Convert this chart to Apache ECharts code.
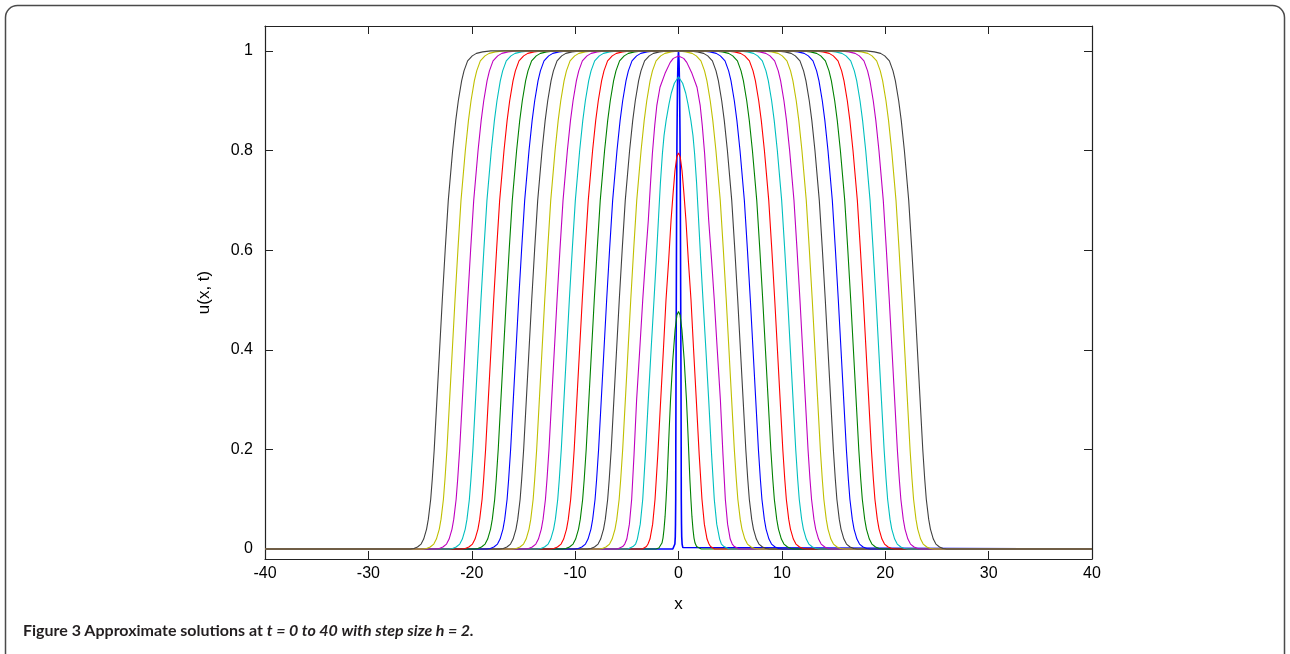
<!DOCTYPE html>
<html>
<head>
<meta charset="utf-8">
<script src="https://cdn.jsdelivr.net/npm/echarts@6/dist/echarts.min.js"></script>
<style>
html,body{margin:0;padding:0;background:#fff;}
#chart{width:1290px;height:654px;}
</style>
</head>
<body>
<div id="chart"></div>
<script>
// ---- data ----
const xTickValues = [-40, -30, -20, -10, 0, 10, 20, 30, 40];
const yTickValues = [0, 0.2, 0.4, 0.6, 0.8, 1];
const times = [0, 2, 4, 6, 8, 10, 12, 14, 16, 18, 20, 22, 24, 26, 28, 30, 32, 34, 36, 38, 40];

// right-half profiles [x, u] of the early curves (symmetric about x = 0)
const profileT0 = [[0, 1], [0.05, 0.98], [0.1, 0.93], [0.15, 0.82], [0.18, 0.7], [0.21, 0.52], [0.24, 0.35], [0.26, 0.2], [0.27, 0.1], [0.29, 0.05], [0.31, 0.025], [0.35, 0.01], [0.42, 0.003], [0.55, 0]];
const profileT2 = [[0, 0.477], [0.15, 0.47], [0.33, 0.44], [0.55, 0.38], [0.77, 0.3], [0.9, 0.24], [1.0, 0.19], [1.1, 0.14], [1.2, 0.1], [1.3, 0.065], [1.4, 0.04], [1.5, 0.022], [1.6, 0.012], [1.75, 0.005], [1.9, 0.002], [2.2, 0]];
const profileT4 = [[0, 0.795], [0.17, 0.787], [0.34, 0.76], [0.52, 0.715], [0.72, 0.66], [0.95, 0.58], [1.21, 0.5], [1.46, 0.4], [1.72, 0.3], [2.0, 0.19], [2.27, 0.1], [2.5, 0.05], [2.76, 0.02], [2.95, 0.01], [3.1, 0.005], [3.5, 0]];
const profileT6 = [[0, 0.948], [0.4, 0.935], [0.7, 0.915], [0.92, 0.893], [1.2, 0.86], [1.4, 0.83], [1.56, 0.793], [1.75, 0.735], [1.92, 0.67], [2.15, 0.58], [2.37, 0.5], [2.65, 0.4], [2.92, 0.3], [3.2, 0.19], [3.46, 0.1], [3.7, 0.05], [3.98, 0.02], [4.15, 0.01], [4.4, 0.005], [4.9, 0]];
const profileT8 = [[0, 0.99], [0.5, 0.985], [0.8, 0.977], [1.3, 0.955], [1.79, 0.927], [2.1, 0.89], [2.3, 0.85], [2.53, 0.793], [2.72, 0.73], [2.92, 0.66], [3.2, 0.58], [3.46, 0.5], [3.75, 0.4], [4.05, 0.3], [4.3, 0.19], [4.53, 0.1], [4.75, 0.05], [5.0, 0.02], [5.2, 0.01], [5.4, 0.005], [5.9, 0]];

// half-height positions |x| of the travelling fronts for t = 10 ... 40
const frontHalfPos = [4.62, 5.73, 6.95, 8.15, 9.31, 10.56, 11.75, 12.94, 14.20, 15.46, 16.66, 17.88, 19.11, 20.39, 21.62, 22.85];
// front shape: level u and its distance from the half-height point
const frontLevels = [1, 0.998, 0.995, 0.99, 0.98, 0.96, 0.94, 0.9, 0.86, 0.8, 0.7, 0.6, 0.5, 0.4, 0.3, 0.2, 0.14, 0.1, 0.06, 0.04, 0.02, 0.01, 0.004, 0.001, 0];
const frontOffsets = [-4.7, -3.9, -3.3, -2.9, -2.45, -2.1, -1.87, -1.55, -1.3, -1.0, -0.58, -0.28, 0, 0.26, 0.52, 0.78, 0.97, 1.12, 1.35, 1.52, 1.8, 2.05, 2.4, 2.75, 3.1];

// MATLAB default colour order
const lineColors = ['#0000ff', '#008000', '#ff0000', '#00bfbf', '#bf00bf', '#bfbf00', '#404040'];

// ---- build series ----
function mirror(right) {
  const left = right.filter(p => p[0] > 0).map(p => [-p[0], p[1]]).reverse();
  return [[-40, 0]].concat(left, right, [[40, 0]]);
}
const earlyProfiles = [profileT0, profileT2, profileT4, profileT6, profileT8];
const series = times.map((t, i) => {
  let right;
  if (i < earlyProfiles.length) {
    right = earlyProfiles[i];
  } else {
    const pos = frontHalfPos[i - earlyProfiles.length];
    right = [[0, 1]];
    frontLevels.forEach((u, k) => {
      const x = pos + frontOffsets[k];
      if (x > 0) right.push([x, u]);
    });
  }
  return {
    type: 'line',
    name: 't = ' + t,
    data: mirror(right),
    showSymbol: false,
    smooth: false,
    lineStyle: { width: i === 0 ? 1.6 : 1.1, color: lineColors[i % lineColors.length] },
    itemStyle: { color: lineColors[i % lineColors.length] },
    z: 2 + i,
    silent: true
  };
});

const axisColor = '#222';
const labelFont = 'Liberation Sans, Arial, sans-serif';

const chart = echarts.init(document.getElementById('chart'), null, { renderer: 'canvas' });
chart.setOption({
  animation: false,
  backgroundColor: '#fff',
  grid: { left: 265, right: 198, top: 26, bottom: 95, containLabel: false },
  xAxis: [{
    type: 'value', min: -40, max: 40, interval: 10, position: 'bottom',
    name: 'x', nameLocation: 'middle', nameGap: 37,
    nameTextStyle: { fontSize: 17, color: '#000', fontFamily: labelFont },
    axisLine: { show: true, onZero: false, lineStyle: { color: axisColor, width: 1.2 } },
    axisTick: { show: true, inside: true, length: 8, lineStyle: { color: axisColor } },
    axisLabel: { fontSize: 16, color: '#000', margin: 7, fontFamily: labelFont },
    splitLine: { show: false }
  }, {
    type: 'value', min: -40, max: 40, interval: 10, position: 'top',
    axisLine: { show: true, onZero: false, lineStyle: { color: axisColor, width: 1.2 } },
    axisTick: { show: true, inside: true, length: 8, lineStyle: { color: axisColor } },
    axisLabel: { show: false },
    splitLine: { show: false }
  }],
  yAxis: [{
    type: 'value', min: -0.02, max: 1.05, position: 'left',
    name: 'u(x, t)', nameLocation: 'middle', nameGap: 52, nameRotate: 90,
    nameTextStyle: { fontSize: 17, color: '#000', fontFamily: labelFont },
    axisLine: { show: true, onZero: false, lineStyle: { color: axisColor, width: 1.2 } },
    axisTick: { show: true, inside: true, length: 8, customValues: yTickValues, lineStyle: { color: axisColor } },
    axisLabel: { fontSize: 16, color: '#000', margin: 12, customValues: yTickValues, fontFamily: labelFont,
      formatter: v => String(Math.round(v * 10) / 10) },
    splitLine: { show: false }
  }, {
    type: 'value', min: -0.02, max: 1.05, position: 'right',
    axisLine: { show: true, onZero: false, lineStyle: { color: axisColor, width: 1.2 } },
    axisTick: { show: true, inside: true, length: 8, customValues: yTickValues, lineStyle: { color: axisColor } },
    axisLabel: { show: false },
    splitLine: { show: false }
  }],
  series: series,
  graphic: [{
    type: 'rect', silent: true,
    shape: { x: 5.5, y: 5.5, width: 1279, height: 720, r: 12 },
    style: { fill: 'none', stroke: '#4a4a4a', lineWidth: 1.5 }
  }, {
    type: 'text', left: 23, top: 623, silent: true,
    style: {
      text: '{b|Figure 3} {b|Approximate solutions at }{bi|t = 0 to 40 with step size h = 2.}',
      rich: {
        b: { fontFamily: 'Lato, Open Sans, sans-serif', fontWeight: 'bold', fontSize: 16, fill: '#231f20' },
        bi: { fontFamily: 'Lato, Open Sans, sans-serif', fontWeight: 'bold', fontStyle: 'italic', fontSize: 16, fill: '#231f20' }
      }
    }
  }]
});
</script>
</body>
</html>
